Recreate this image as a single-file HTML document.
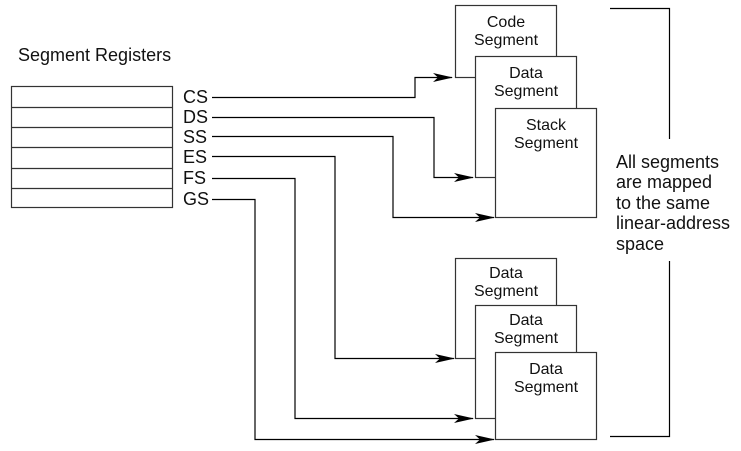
<!DOCTYPE html>
<html><head><style>
body{margin:0;background:#fff;}
svg text{font-family:"Liberation Sans",Arial,sans-serif;font-size:18px;fill:#111;}
svg text.b{font-size:16px;}
</style></head><body>
<svg width="741" height="446" xmlns="http://www.w3.org/2000/svg">
<defs><marker id="a" markerWidth="20" markerHeight="9" refX="19" refY="4.5" orient="auto" markerUnits="userSpaceOnUse"><path d="M0,0 L20,4.5 L0,9 L5,4.5 z" fill="#000"/></marker></defs>
<text x="18" y="61">Segment Registers</text>
<g stroke="#333" stroke-width="1.2" fill="none">
<rect x="11.5" y="86.5" width="161" height="121"/>
<line x1="11" y1="107.5" x2="172" y2="107.5"/>
<line x1="11" y1="127.5" x2="172" y2="127.5"/>
<line x1="11" y1="147.5" x2="172" y2="147.5"/>
<line x1="11" y1="168.5" x2="172" y2="168.5"/>
<line x1="11" y1="188.5" x2="172" y2="188.5"/>
</g>
<text x="183" y="103">CS</text>
<text x="183" y="123">DS</text>
<text x="183" y="143">SS</text>
<text x="183" y="163">ES</text>
<text x="183" y="184">FS</text>
<text x="183" y="205">GS</text>
<g stroke="#000" stroke-width="1.2" fill="none">
<polyline points="212,97.5 415,97.5 415,77.5 452,77.5" marker-end="url(#a)"/>
<polyline points="212,117.5 434,117.5 434,177.5 473,177.5" marker-end="url(#a)"/>
<polyline points="212,136.5 393,136.5 393,217.5 494,217.5" marker-end="url(#a)"/>
<polyline points="212,156.5 335,156.5 335,358.5 454,358.5" marker-end="url(#a)"/>
<polyline points="212,178.5 295,178.5 295,418.5 473,418.5" marker-end="url(#a)"/>
<polyline points="212,199.5 255,199.5 255,439.5 494,439.5" marker-end="url(#a)"/>
</g>
<g stroke="#333" stroke-width="1.2" fill="#fff">
<rect x="455.5" y="5.5" width="101" height="72"/>
<rect x="475.5" y="56.5" width="101" height="121"/>
<rect x="495.5" y="108.5" width="101" height="109"/>
<rect x="455.5" y="258.5" width="101" height="100"/>
<rect x="475.5" y="305.5" width="101" height="113"/>
<rect x="495.5" y="352.5" width="101" height="87"/>
</g>
<g text-anchor="middle">
<text class="b" x="506" y="27">Code</text><text class="b" x="506" y="45">Segment</text>
<text class="b" x="526" y="78">Data</text><text class="b" x="526" y="96">Segment</text>
<text class="b" x="546" y="130">Stack</text><text class="b" x="546" y="148">Segment</text>
<text class="b" x="506" y="278">Data</text><text class="b" x="506" y="296">Segment</text>
<text class="b" x="526" y="325">Data</text><text class="b" x="526" y="343">Segment</text>
<text class="b" x="546" y="374">Data</text><text class="b" x="546" y="392">Segment</text>
</g>
<g stroke="#000" stroke-width="1.2" fill="none">
<polyline points="610,8.5 669.5,8.5 669.5,139"/>
<polyline points="669.5,261 669.5,436.5 610,436.5"/>
</g>
<text x="616" y="168">All segments</text>
<text x="616" y="188">are mapped</text>
<text x="616" y="209">to the same</text>
<text x="616" y="229">linear-address</text>
<text x="616" y="250">space</text>
</svg>
</body></html>
